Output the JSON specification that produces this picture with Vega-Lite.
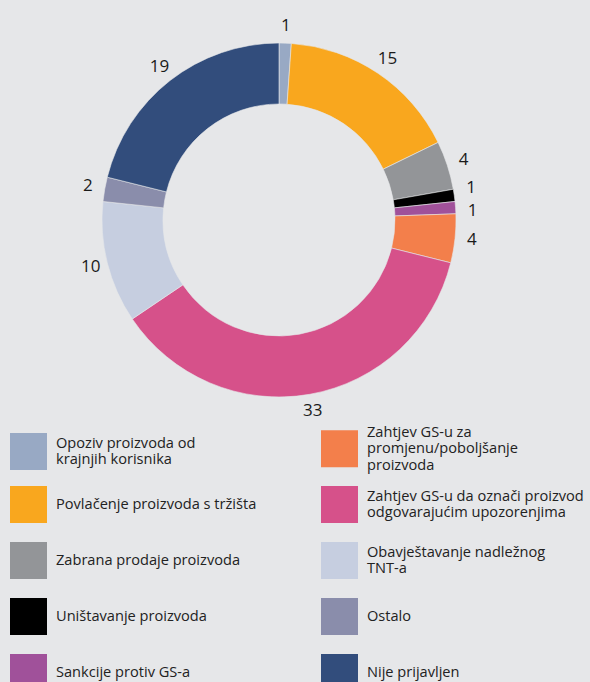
{
  "$schema": "https://vega.github.io/schema/vega-lite/v6.json",
  "width": 558,
  "height": 440,
  "autosize": {"type": "none"},
  "padding": {"left": 0, "top": 0, "right": 32, "bottom": 242},
  "background": "#e6e7e9",
  "config": {"view": {"stroke": null}, "font": "Open Sans"},
  "data": {
    "values": [
      {"k": 1, "kategorija": "Opoziv proizvoda od|krajnjih korisnika", "broj": 1},
      {"k": 2, "kategorija": "Povlačenje proizvoda s tržišta", "broj": 15},
      {"k": 3, "kategorija": "Zabrana prodaje proizvoda", "broj": 4},
      {"k": 4, "kategorija": "Uništavanje proizvoda", "broj": 1},
      {"k": 5, "kategorija": "Sankcije protiv GS-a", "broj": 1},
      {"k": 6, "kategorija": "Zahtjev GS-u za|promjenu/poboljšanje|proizvoda", "broj": 4},
      {"k": 7, "kategorija": "Zahtjev GS-u da označi proizvod|odgovarajućim upozorenjima", "broj": 33},
      {"k": 8, "kategorija": "Obavještavanje nadležnog|TNT-a", "broj": 10},
      {"k": 9, "kategorija": "Ostalo", "broj": 2},
      {"k": 10, "kategorija": "Nije prijavljen", "broj": 19}
    ]
  },
  "encoding": {
    "theta": {"field": "broj", "type": "quantitative", "stack": true},
    "order": {"field": "k", "type": "quantitative"}
  },
  "layer": [
    {
      "mark": {"type": "arc", "outerRadius": 177, "innerRadius": 116, "stroke": "#e6e7e9", "strokeWidth": 0.6},
      "encoding": {
        "color": {
          "field": "kategorija",
          "type": "nominal",
          "scale": {
            "domain": [
              "Opoziv proizvoda od|krajnjih korisnika",
              "Povlačenje proizvoda s tržišta",
              "Zabrana prodaje proizvoda",
              "Uništavanje proizvoda",
              "Sankcije protiv GS-a",
              "Zahtjev GS-u za|promjenu/poboljšanje|proizvoda",
              "Zahtjev GS-u da označi proizvod|odgovarajućim upozorenjima",
              "Obavještavanje nadležnog|TNT-a",
              "Ostalo",
              "Nije prijavljen"
            ],
            "range": ["#98a9c4", "#f9a71e", "#939598", "#000000", "#a0519a", "#f37f4b", "#d6518a", "#c6cee0", "#8a8dab", "#324d7c"]
          },
          "legend": {
            "title": null,
            "orient": "none",
            "legendX": 10,
            "legendY": 430,
            "columns": 2,
            "columnPadding": 48,
            "rowPadding": 13,
            "gridAlign": "all",
            "symbolType": "square",
            "symbolSize": 1369,
            "symbolStrokeWidth": 0,
            "symbolOpacity": 1,
            "labelOffset": 9,
            "labelLimit": 320,
            "labelFontSize": 14.6,
            "labelLineHeight": 16,
            "labelColor": "#222222",
            "labelFont": "Open Sans",
            "labelExpr": "split(datum.label, '|')",
            "encoding": {
              "labels": {
                "dy": {"value": {"expr": "-(length(split(datum.label, '|')) - 1) * 8"}}
              }
            }
          }
        }
      }
    },
    {
      "mark": {
        "type": "text",
        "radius": 194,
        "fontSize": 17,
        "color": "#1a1a1a",
        "font": "Open Sans",
        "dy": {"expr": "datum.k == 4 ? -5 : datum.k == 5 ? 5 : 0"}
      },
      "encoding": {
        "text": {"field": "broj", "type": "quantitative"}
      }
    }
  ]
}
